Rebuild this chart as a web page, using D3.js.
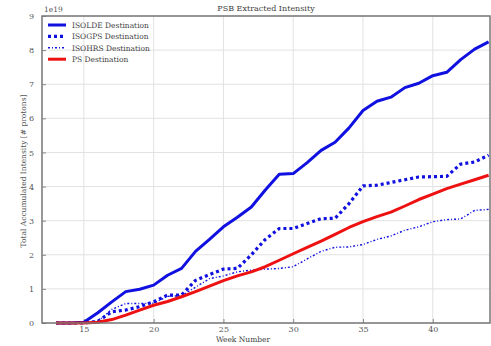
<!DOCTYPE html>
<html><head><meta charset="utf-8">
<script src="https://cdn.jsdelivr.net/npm/d3@7"></script>
<style>body{margin:0;background:#fff}svg{display:block}text{font-family:"DejaVu Serif","Liberation Serif",serif}</style>
</head><body><svg id="c" width="491" height="346"></svg>
<script>
const weeks = [13,14,15,16,17,18,19,20,21,22,23,24,25,26,27,28,29,30,31,32,33,34,35,36,37,38,39,40,41,42,43,44];
const isolde = [0,0,0.02,0.3,0.62,0.92,0.99,1.11,1.4,1.6,2.1,2.45,2.82,3.1,3.4,3.9,4.36,4.38,4.7,5.06,5.3,5.72,6.23,6.5,6.62,6.9,7.03,7.25,7.35,7.72,8.03,8.24];
const isogps = [0,0,0,0.05,0.33,0.38,0.48,0.62,0.82,0.82,1.25,1.42,1.58,1.6,2.0,2.45,2.77,2.77,2.92,3.06,3.07,3.5,4.02,4.04,4.12,4.2,4.28,4.29,4.3,4.66,4.72,4.92];
const isohrs = [0,0,0,0.05,0.4,0.57,0.57,0.58,0.78,0.8,1.05,1.3,1.38,1.5,1.55,1.58,1.6,1.65,1.88,2.1,2.22,2.23,2.3,2.45,2.55,2.72,2.82,2.97,3.03,3.05,3.3,3.33];
const ps = [0,0,0,0.02,0.1,0.23,0.38,0.52,0.63,0.77,0.92,1.08,1.24,1.38,1.5,1.65,1.84,2.03,2.22,2.4,2.6,2.8,2.97,3.12,3.25,3.43,3.62,3.78,3.94,4.07,4.2,4.33];
const xTicks = [15,20,25,30,35,40];
const yTicks = [0,1,2,3,4,5,6,7,8,9];
const seriesNames = ["ISOLDE Destination","ISOGPS Destination","ISOHRS Destination","PS Destination"];

const series = [
  {name: seriesNames[0], values: isolde, color: "#1010e0", width: 3, dash: null},
  {name: seriesNames[1], values: isogps, color: "#1010e0", width: 3.2, dash: "3,3"},
  {name: seriesNames[2], values: isohrs, color: "#1010e0", width: 1.4, dash: "2,2,1,2"},
  {name: seriesNames[3], values: ps, color: "#ee1111", width: 3, dash: null}
];

const svg = d3.select("#c");
const L = 42, R = 490, T = 16, B = 323;
const x = d3.scaleLinear().domain([12, 44.1]).range([L, R]);
const y = d3.scaleLinear().domain([0, 9]).range([B, T]);

// grid
const g = svg.append("g");
g.selectAll(".gx").data(xTicks).enter().append("line")
  .attr("x1", d => x(d)).attr("x2", d => x(d)).attr("y1", T).attr("y2", B)
  .attr("stroke", "#e2e2e2").attr("stroke-width", 1);
g.selectAll(".gy").data(yTicks).enter().append("line")
  .attr("x1", L).attr("x2", R).attr("y1", d => y(d)).attr("y2", d => y(d))
  .attr("stroke", "#e2e2e2").attr("stroke-width", 1);

// axes
const xAxis = d3.axisBottom(x).tickValues(xTicks).tickSize(-4).tickPadding(3);
const yAxis = d3.axisLeft(y).tickValues(yTicks).tickSize(-4).tickPadding(8);
const ax = svg.append("g").attr("transform", `translate(0,${B})`).call(xAxis);
const ay = svg.append("g").attr("transform", `translate(${L},0)`).call(yAxis);
[ax, ay].forEach(a => {
  a.select(".domain").remove();
  a.selectAll("line").attr("stroke", "#888");
  a.selectAll("text").attr("font-size", 8).attr("fill", "#555").attr("font-family", "DejaVu Serif, serif");
});

// lines
const line = d3.line().x((d, i) => x(weeks[i])).y(d => y(d));
series.forEach(s => {
  svg.append("path").datum(s.values).attr("d", line)
    .attr("fill", "none").attr("stroke", s.color).attr("stroke-width", s.width)
    .attr("stroke-dasharray", s.dash).attr("stroke-linejoin", "round");
});

// spines
svg.append("rect").attr("x", L).attr("y", T).attr("width", R - L).attr("height", B - T)
  .attr("fill", "none").attr("stroke", "#777").attr("stroke-width", 1.5);

// legend
const lg = svg.append("g");
series.forEach((s, i) => {
  const yy = 25 + i * 11.4;
  lg.append("line").attr("x1", 48).attr("x2", 66).attr("y1", yy).attr("y2", yy)
    .attr("stroke", s.color).attr("stroke-width", s.width).attr("stroke-dasharray", s.dash);
  lg.append("text").attr("x", 72).attr("y", yy + 3).attr("font-size", 7.5).attr("fill", "#444").text(s.name);
});

// texts
svg.append("text").attr("x", 266).attr("y", 11).attr("text-anchor", "middle")
  .attr("font-size", 8).attr("fill", "#444").text("PSB Extracted Intensity");
svg.append("text").attr("x", 44).attr("y", 12).attr("font-size", 7.5).attr("fill", "#555").text("1e19");
svg.append("text").attr("x", 243).attr("y", 342).attr("text-anchor", "middle")
  .attr("font-size", 7.5).attr("fill", "#444").text("Week Number");
svg.append("text").attr("transform", "translate(26,171) rotate(-90)").attr("text-anchor", "middle")
  .attr("font-size", 7.5).attr("fill", "#555").text("Total Accumulated Intensity [# protons]");
</script></body></html>
